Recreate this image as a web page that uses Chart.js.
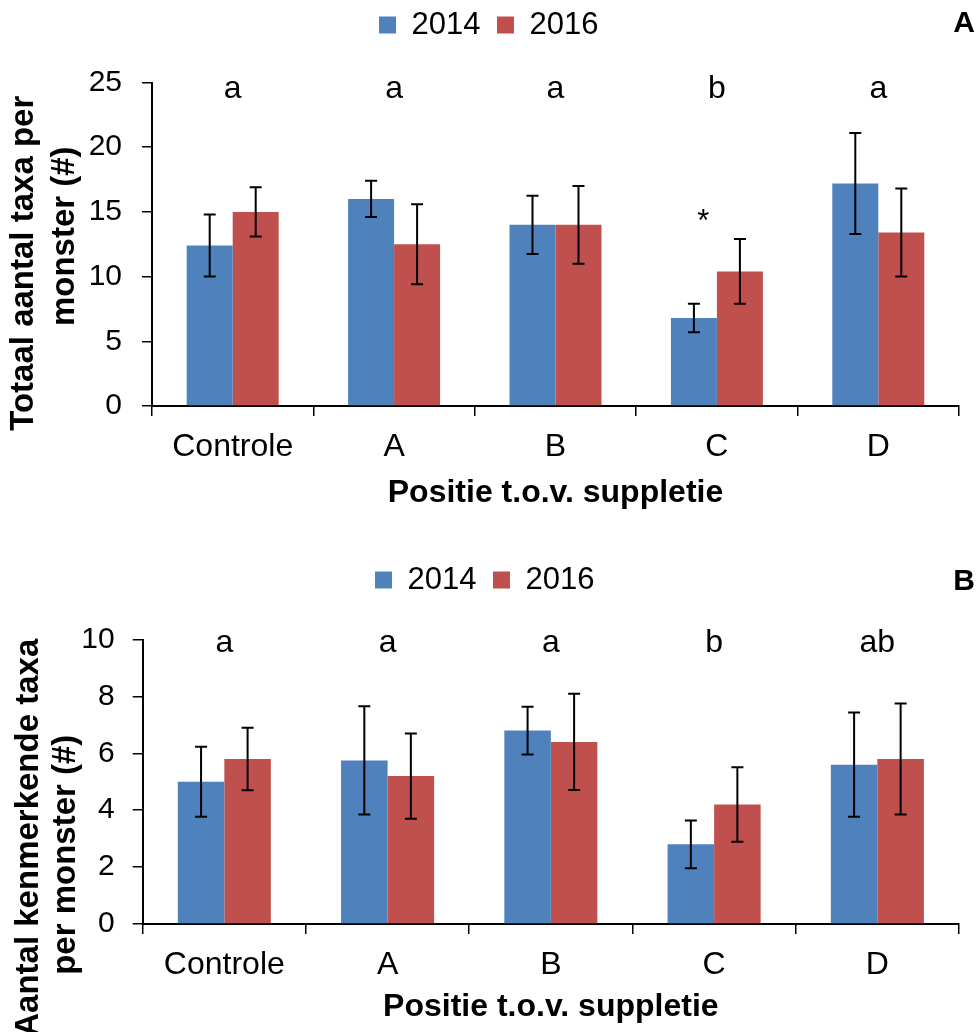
<!DOCTYPE html>
<html>
<head>
<meta charset="utf-8">
<script src="https://cdn.jsdelivr.net/npm/chart.js@4.4.1/dist/chart.umd.min.js"></script>
<style>
    html, body { margin: 0; padding: 0; background: #fff; }
    .panel { position: relative; width: 978px; height: 516px; }
</style>
</head>
<body>
<div class="panel"><canvas id="chart-a" width="978" height="516"></canvas></div>
<div class="panel"><canvas id="chart-b" width="978" height="516"></canvas></div>
<script>
var categories = ["Controle", "A", "B", "C", "D"];
var seriesNames = ["2014", "2016"];

// Panel A: totaal aantal taxa per monster
var totalMean2014 = [12.4, 16.0, 14.0, 6.8, 17.2];
var totalErr2014 = [2.4, 1.4, 2.25, 1.1, 3.9];
var totalMean2016 = [15.0, 12.5, 14.0, 10.4, 13.4];
var totalErr2016 = [1.9, 3.1, 3.0, 2.5, 3.4];
var totalLetters = ["a", "a", "a", "b", "a"];
var totalStars = ["", "", "", "*", ""];
var totalTicks = [0, 5, 10, 15, 20, 25];

// Panel B: aantal kenmerkende taxa per monster
var charMean2014 = [5.0, 5.75, 6.8, 2.8, 5.6];
var charErr2014 = [1.23, 1.9, 0.84, 0.84, 1.83];
var charMean2016 = [5.8, 5.2, 6.4, 4.2, 5.8];
var charErr2016 = [1.1, 1.5, 1.69, 1.31, 1.95];
var charLetters = ["a", "a", "a", "b", "ab"];
var charStars = ["", "", "", "", ""];
var charTicks = [0, 2, 4, 6, 8, 10];

var BLUE = "#4F81BD";
var RED = "#C0504D";
var FONT = "'Liberation Sans', Arial, sans-serif";

// error bars drawn from the dataset's "errors" array
var errorBarPlugin = {
    id: "errorBars",
    afterDatasetsDraw: function(chart) {
        var ctx = chart.ctx;
        var y = chart.scales.y;
        ctx.save();
        ctx.strokeStyle = "#000";
        ctx.lineWidth = 2;
        chart.data.datasets.forEach(function(ds, di) {
            var meta = chart.getDatasetMeta(di);
            meta.data.forEach(function(bar, i) {
                var v = ds.data[i], e = ds.errors[i];
                var top = y.getPixelForValue(v + e);
                var bot = y.getPixelForValue(v - e);
                ctx.beginPath();
                ctx.moveTo(bar.x, top); ctx.lineTo(bar.x, bot);
                ctx.moveTo(bar.x - 6, top); ctx.lineTo(bar.x + 6, top);
                ctx.moveTo(bar.x - 6, bot); ctx.lineTo(bar.x + 6, bot);
                ctx.stroke();
            });
        });
        ctx.restore();
    }
};

function textPlugin(cfg) {
    return {
        id: "panelText",
        afterDraw: function(chart) {
            var ctx = chart.ctx;
            var xs = chart.scales.x, ys = chart.scales.y;
            var area = chart.chartArea;
            ctx.save();
            ctx.fillStyle = "#000";

            // significance letters
            ctx.font = "32px " + FONT;
            ctx.textAlign = "center";
            ctx.textBaseline = "alphabetic";
            cfg.letters.forEach(function(l, i) {
                ctx.fillText(l, xs.getPixelForValue(i), ys.getPixelForValue(cfg.letterLevel));
            });

            // asterisks above the group
            ctx.font = "31px " + FONT;
            cfg.stars.forEach(function(s, i) {
                if (!s) return;
                var hi = Math.max(cfg.mean2014[i] + cfg.err2014[i], cfg.mean2016[i] + cfg.err2016[i]);
                var blue = chart.getDatasetMeta(0).data[i];
                var x = (blue.x + xs.getPixelForValue(i)) / 2 - 2;
                ctx.fillText(s, x, ys.getPixelForValue(hi) - 8);
            });

            // y-axis title, two lines
            ctx.font = "bold 33px " + FONT;
            var mid = (area.top + area.bottom) / 2;
            cfg.yTitle.forEach(function(line, k) {
                ctx.save();
                ctx.translate(cfg.yTitleX[k], mid + cfg.titleShift[k]);
                ctx.rotate(-Math.PI / 2);
                ctx.fillText(line, 0, 0);
                ctx.restore();
            });

            // panel letter
            ctx.font = "bold 30px " + FONT;
            ctx.textAlign = "right";
            ctx.fillText(cfg.panel, chart.width - 3, cfg.panelY);
            ctx.restore();
        }
    };
}

function buildChart(id, cfg) {
    return new Chart(document.getElementById(id), {
        type: "bar",
        data: {
            labels: categories,
            datasets: [
                { label: seriesNames[0], data: cfg.mean2014, errors: cfg.err2014, backgroundColor: BLUE },
                { label: seriesNames[1], data: cfg.mean2016, errors: cfg.err2016, backgroundColor: RED }
            ]
        },
        options: {
            responsive: false,
            animation: false,
            layout: { padding: { top: cfg.padTop, right: 19, left: cfg.padLeft, bottom: 0 } },
            datasets: { bar: { categoryPercentage: 0.57, barPercentage: 1 } },
            plugins: {
                legend: {
                    position: "top",
                    labels: { boxWidth: 17, boxHeight: 17, padding: 16.5, color: "#000", font: { family: FONT, size: 31 } }
                },
                // empty spacer between legend and plot
                subtitle: { display: true, text: "", weight: 500, padding: 0, font: { size: cfg.gap, lineHeight: 1 } },
                tooltip: { enabled: false }
            },
            scales: {
                x: {
                    grid: { display: true, drawOnChartArea: false, drawTicks: true, tickLength: 10, color: "#000", lineWidth: 1.5, offset: true },
                    border: { display: true, color: "#000", width: 2 },
                    ticks: { color: "#000", padding: 12, font: { family: FONT, size: 32 }, maxRotation: 0 },
                    title: { display: true, text: "Positie t.o.v. suppletie", color: "#000", padding: { top: 0, bottom: cfg.titlePad }, font: { family: FONT, size: 32, weight: "bold" } },
                    afterFit: function(s) { s.height = cfg.xHeight; }
                },
                y: {
                    min: 0,
                    max: cfg.ticks[cfg.ticks.length - 1],
                    afterBuildTicks: function(s) { s.ticks = cfg.ticks.map(function(v) { return { value: v }; }); },
                    grid: { display: true, drawOnChartArea: false, drawTicks: true, tickLength: 10, color: "#000", lineWidth: 1.5 },
                    border: { display: true, color: "#000", width: 2 },
                    ticks: { color: "#000", padding: cfg.yPad, font: { family: FONT, size: 30 } },
                    afterFit: function(s) { s.width = cfg.yWidth; }
                }
            }
        },
        plugins: [errorBarPlugin, textPlugin(cfg)]
    });
}

buildChart("chart-a", {
    mean2014: totalMean2014, err2014: totalErr2014,
    mean2016: totalMean2016, err2016: totalErr2016,
    letters: totalLetters, stars: totalStars, ticks: totalTicks,
    letterLevel: 23.8, panel: "A", panelY: 32,
    yTitle: ["Totaal aantal taxa per", "monster (#)"], yTitleX: [33, 74], titleShift: [19, -8],
    padTop: -7, padLeft: 18.5, gap: 32, xHeight: 110, titlePad: 4, yWidth: 133.5, yPad: 20
});

buildChart("chart-b", {
    mean2014: charMean2014, err2014: charErr2014,
    mean2016: charMean2016, err2016: charErr2016,
    letters: charLetters, stars: charStars, ticks: charTicks,
    letterLevel: 9.55, panel: "B", panelY: 74,
    yTitle: ["Aantal kenmerkende taxa", "per monster (#)"], yTitleX: [38, 75], titleShift: [56, 73],
    padTop: 32, padLeft: 10.5, gap: 34, xHeight: 108, titlePad: 6, yWidth: 132.2, yPad: 18
});
</script>
</body>
</html>
